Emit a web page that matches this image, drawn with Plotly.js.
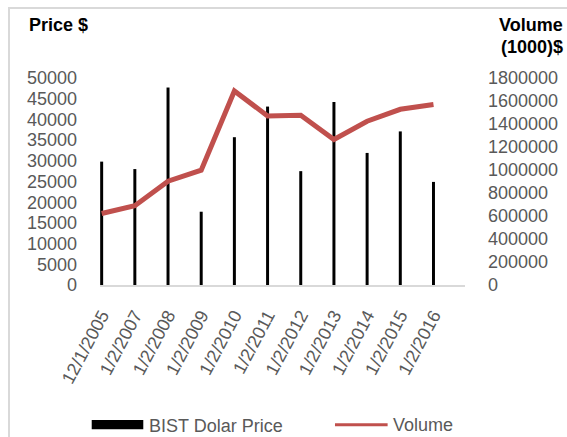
<!DOCTYPE html>
<html>
<head>
<meta charset="utf-8">
<script src="https://cdn.plot.ly/plotly-3.0.1.min.js"></script>
<style>
  html, body { margin: 0; padding: 0; background: #fff; }
  #frame { position: absolute; left: 8px; top: 7px; width: 600px; height: 500px;
           border-left: 2px solid #d9d9d9; border-top: 2px solid #d9d9d9; }
  #chart { position: absolute; left: 0; top: 0; width: 567px; height: 437px; }
</style>
</head>
<body>
<div id="frame"></div>
<div id="chart"></div>
<script>
var dates = ['12/1/2005', '1/2/2007', '1/2/2008', '1/2/2009', '1/2/2010', '1/2/2011',
             '1/2/2012', '1/2/2013', '1/2/2014', '1/2/2015', '1/2/2016'];
var bistPrice = [29800, 28000, 47700, 17700, 35700, 43100, 27500, 44200, 31900, 37100, 24900];
var volume = [622000, 689000, 903000, 998000, 1687000, 1470000, 1476000, 1265000, 1424000, 1528000, 1569000];

var fontFam = 'Liberation Sans, Arial, sans-serif';
var grey = '#595959';

var trace1 = {
    type: 'bar',
    x: dates,
    y: bistPrice,
    name: 'BIST Dolar Price',
    width: 0.09,
    marker: { color: '#000000' },
    yaxis: 'y'
};

var trace2 = {
    type: 'scatter',
    x: dates,
    y: volume,
    mode: 'lines',
    name: 'Volume',
    line: { color: 'rgb(192, 80, 77)', width: 5 },
    yaxis: 'y2'
};

// legend is drawn by hand so the bar key can be a wide block like the original
var layout = {
    width: 567,
    height: 437,
    margin: { l: 100, r: 102, t: 78, b: 152 },
    paper_bgcolor: 'rgba(0,0,0,0)',
    plot_bgcolor: 'rgba(0,0,0,0)',
    font: { family: fontFam, size: 18, color: grey },
    showlegend: false,
    xaxis: {
        type: 'category',
        range: [-0.05, 10.95],
        automargin: false,
        showgrid: false,
        zeroline: false,
        showline: true,
        linecolor: '#d9d9d9',
        linewidth: 1.5,
        ticks: '',
        tickangle: -62,
        ticklabelstandoff: 11
    },
    yaxis: {
        range: [0, 50000],
        dtick: 5000,
        automargin: false,
        showgrid: false,
        zeroline: false,
        ticks: '',
        tickformat: 'd',
        ticklabelstandoff: 22
    },
    yaxis2: {
        overlaying: 'y',
        side: 'right',
        range: [0, 1800000],
        dtick: 200000,
        automargin: false,
        showgrid: false,
        zeroline: false,
        ticks: '',
        tickformat: 'd',
        ticklabelstandoff: 22
    },
    shapes: [
        { type: 'rect', xref: 'paper', yref: 'paper', x0: -0.0227, x1: 0.1186, y0: -0.697, y1: -0.652,
          fillcolor: '#000000', line: { width: 0 } },
        { type: 'line', xref: 'paper', yref: 'paper', x0: 0.6438, x1: 0.788, y0: -0.675, y1: -0.675,
          line: { color: 'rgb(192, 80, 77)', width: 3 } }
    ],
    annotations: [
        { text: 'BIST Dolar Price', xref: 'paper', yref: 'paper', x: 0.134, y: -0.68,
          xanchor: 'left', yanchor: 'middle', showarrow: false, xshift: -2 },
        { text: 'Volume', xref: 'paper', yref: 'paper', x: 0.803, y: -0.675,
          xanchor: 'left', yanchor: 'middle', showarrow: false, xshift: -2 },
        { text: '<b>Price $</b>', xref: 'paper', yref: 'paper', x: -0.1945, y: 1.256,
          xanchor: 'left', yanchor: 'middle', showarrow: false, xshift: -2,
          font: { size: 18, color: '#000000' } },
        { text: '<b>Volume</b>', xref: 'paper', yref: 'paper', x: 1.268, y: 1.256,
          xanchor: 'right', yanchor: 'middle', showarrow: false, xshift: 2,
          font: { size: 18, color: '#000000' } },
        { text: '<b>(1000)$</b>', xref: 'paper', yref: 'paper', x: 1.268, y: 1.151,
          xanchor: 'right', yanchor: 'middle', showarrow: false, xshift: 2,
          font: { size: 18, color: '#000000' } }
    ]
};

Plotly.newPlot('chart', [trace1, trace2], layout, { displayModeBar: false });
</script>
</body>
</html>
